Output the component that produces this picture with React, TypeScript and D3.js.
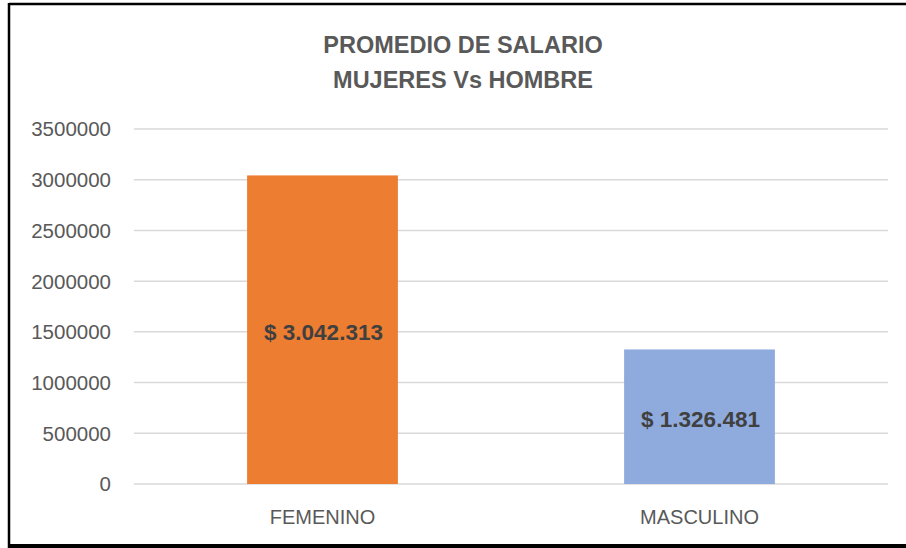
import React from "react";
import * as d3 from "d3";

const categories = ["FEMENINO", "MASCULINO"];
const values = [3042313, 1326481];
const barColors = ["#ED7D31", "#8FAADC"];
const valueLabels = ["$ 3.042.313", "$ 1.326.481"];
const tickValues = [0, 500000, 1000000, 1500000, 2000000, 2500000, 3000000, 3500000];
const titleLines = ["PROMEDIO DE SALARIO", "MUJERES Vs HOMBRE"];

const W = 906;
const H = 548;
const FONT = "'Liberation Sans', Arial, sans-serif";

export default function App() {
  const x = d3.scaleBand<string>().domain(categories).range([134, 888]).paddingInner(0.6).paddingOuter(0.3);
  const y = d3.scaleLinear().domain([0, 3500000]).range([484, 129]);

  return (
    <svg
      width={W}
      height={H}
      style={{ position: "absolute", left: 0, top: 0, background: "#fff" }}
      fontFamily={FONT}
    >
      <rect x={0} y={0} width={W} height={H} fill="#fff" />
      {/* frame */}
      <line x1={9} y1={4} x2={W} y2={4} stroke="#000" strokeWidth={2.5} />
      <line x1={9} y1={3} x2={9} y2={H} stroke="#000" strokeWidth={2.5} />
      <line x1={9} y1={546} x2={W} y2={546} stroke="#000" strokeWidth={4} />

      {titleLines.map((t, i) => (
        <text
          key={t}
          x={463}
          y={53 + i * 35}
          textAnchor="middle"
          fontSize={23.5}
          fontWeight="bold"
          fill="#595959"
        >
          {t}
        </text>
      ))}

      {tickValues.map((v) => (
        <g key={v}>
          <line x1={134} x2={888} y1={y(v)} y2={y(v)} stroke="#D9D9D9" strokeWidth={1.5} />
          <text x={111} y={y(v)} dy="0.36em" textAnchor="end" fontSize={20.5} fill="#595959">
            {v}
          </text>
        </g>
      ))}

      {categories.map((c, i) => {
        const bx = x(c)!;
        const bw = x.bandwidth();
        const top = y(values[i]);
        const bottom = y(0);
        return (
          <g key={c}>
            <rect x={bx} y={top} width={bw} height={bottom - top} fill={barColors[i]} />
            <text
              x={bx + bw / 2 + 1}
              y={(top + bottom) / 2 + 2}
              dy="0.36em"
              textAnchor="middle"
              fontSize={22.5}
              fontWeight="bold"
              fill="#404040"
            >
              {valueLabels[i]}
            </text>
            <text x={bx + bw / 2} y={517} dy="0.36em" textAnchor="middle" fontSize={20} fill="#595959">
              {c}
            </text>
          </g>
        );
      })}
    </svg>
  );
}
